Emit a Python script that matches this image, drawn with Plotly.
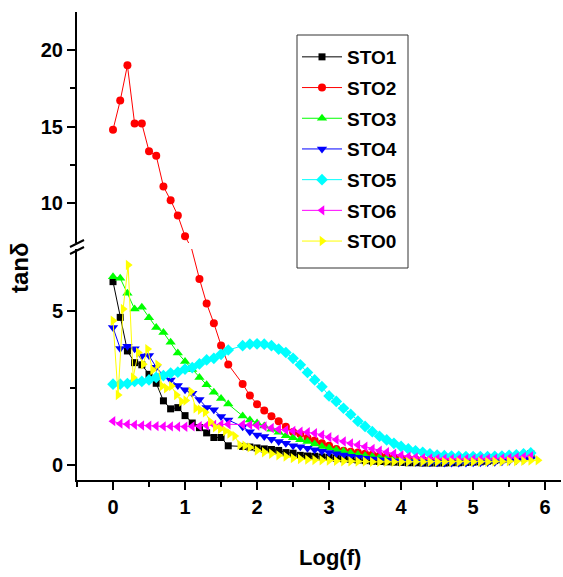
import plotly.graph_objects as go

# ---------------- data ----------------
x_main = [0.0, 0.1, 0.2, 0.3, 0.4, 0.5, 0.6, 0.7, 0.8, 0.9, 1.0, 1.1, 1.2, 1.3, 1.4, 1.5, 1.6,
          1.8, 1.9, 2.0, 2.1, 2.2, 2.3, 2.4, 2.5, 2.6, 2.7, 2.8, 2.9, 3.0, 3.1, 3.2, 3.3, 3.4,
          3.5, 3.6, 3.7, 3.8, 3.9, 4.0, 4.1, 4.2, 4.3, 4.4, 4.5, 4.6, 4.7, 4.8, 4.9, 5.0, 5.1,
          5.2, 5.3, 5.4, 5.5, 5.6, 5.7, 5.8]

sto1 = [5.95, 4.79, 3.70, 3.32, 3.25, 2.94, 2.65, 2.08, 1.82, 1.86, 1.60, 1.36, 1.21, 1.04, 0.89, 0.89, 0.62,
        0.60, 0.58, 0.55, 0.52, 0.50, 0.47, 0.40, 0.38, 0.31, 0.29, 0.28, 0.26, 0.24, 0.22, 0.20, 0.18, 0.16,
        0.14, 0.12, 0.11, 0.10, 0.09, 0.08, 0.07, 0.07, 0.06, 0.06, 0.06, 0.06, 0.07, 0.07, 0.08, 0.09, 0.10,
        0.12, 0.14, 0.17, 0.20, 0.24, 0.29, 0.36]

# the 1.1 point of STO2 lies inside the axis break and is not visible
sto2 = [14.8, 16.7, 19.0, 15.2, 15.2, 13.4, 13.1, 11.1, 10.2, 9.2, 7.85, None, 6.04, 5.24, 4.60, 3.88, 3.26,
        2.63, 2.25, 1.97, 1.77, 1.58, 1.42, 1.24, 1.07, 1.00, 0.87, 0.79, 0.70, 0.62, 0.52, 0.46, 0.43, 0.40,
        0.36, 0.33, 0.30, 0.27, 0.24, 0.22, 0.20, 0.18, 0.17, 0.16, 0.15, 0.15, 0.15, 0.15, 0.15, 0.16, 0.17,
        0.18, 0.19, 0.20, 0.21, 0.23, 0.25, 0.27]

sto3 = [6.11, 6.06, 5.57, 5.06, 5.12, 4.78, 4.46, 4.30, 3.98, 3.63, 3.36, 3.10, 2.84, 2.60, 2.36, 2.16, 1.98,
        1.59, 1.46, 1.36, 1.26, 1.16, 1.06, 0.95, 0.88, 0.82, 0.76, 0.68, 0.60, 0.55, 0.48, 0.44, 0.39, 0.34,
        0.30, 0.27, 0.25, 0.22, 0.20, 0.18, 0.16, 0.15, 0.14, 0.13, 0.12, 0.12, 0.12, 0.12, 0.12, 0.13, 0.14,
        0.15, 0.16, 0.18, 0.19, 0.21, 0.23, 0.26]

sto4 = [4.46, 3.78, 3.85, 3.77, 3.54, 3.55, 3.17, 2.90, 2.76, 2.58, 2.44, 2.33, 2.12, 1.86, 1.79, 1.57, 1.46,
        1.24, 1.08, 0.97, 0.92, 0.83, 0.76, 0.70, 0.62, 0.59, 0.54, 0.49, 0.44, 0.40, 0.36, 0.32, 0.28, 0.25,
        0.22, 0.19, 0.17, 0.15, 0.13, 0.11, 0.10, 0.09, 0.08, 0.07, 0.07, 0.06, 0.06, 0.06, 0.06, 0.07, 0.07,
        0.08, 0.09, 0.10, 0.12, 0.14, 0.16, 0.19]

sto5 = [2.62, 2.62, 2.64, 2.71, 2.71, 2.76, 2.84, 2.90, 2.98, 3.01, 3.11, 3.16, 3.28, 3.41, 3.46, 3.59, 3.73,
        3.87, 3.92, 3.93, 3.92, 3.87, 3.76, 3.65, 3.46, 3.25, 3.00, 2.76, 2.54, 2.24, 2.06, 1.84, 1.64, 1.42,
        1.25, 1.08, 0.93, 0.81, 0.70, 0.60, 0.52, 0.46, 0.41, 0.36, 0.32, 0.30, 0.29, 0.28, 0.27, 0.27, 0.27,
        0.27, 0.28, 0.29, 0.31, 0.33, 0.36, 0.39]

sto6 = [1.42, 1.34, 1.32, 1.30, 1.28, 1.27, 1.26, 1.25, 1.25, 1.24, 1.24, 1.25, 1.26, 1.28, 1.30, 1.31, 1.32,
        1.31, 1.30, 1.28, 1.25, 1.20, 1.16, 1.13, 1.10, 1.08, 1.06, 1.03, 0.97, 0.90, 0.82, 0.76, 0.70, 0.65,
        0.59, 0.52, 0.46, 0.41, 0.36, 0.31, 0.27, 0.24, 0.22, 0.21, 0.20, 0.20, 0.19, 0.19, 0.19, 0.19, 0.19,
        0.20, 0.20, 0.21, 0.22, 0.24, 0.26, 0.28]

x_sto0 = [0.0, 0.07, 0.14, 0.21, 0.28, 0.35, 0.42, 0.48, 0.55, 0.62, 0.68, 0.74, 0.81, 0.88, 0.95, 1.01,
          1.08, 1.15, 1.21, 1.28, 1.35, 1.42, 1.49, 1.56, 1.62, 1.69, 1.76, 1.83, 1.9, 2.0, 2.1, 2.2, 2.3,
          2.4, 2.5, 2.6, 2.7, 2.8, 2.9, 3.0, 3.1, 3.2, 3.3, 3.4, 3.5, 3.6, 3.7, 3.8, 3.9, 4.0, 4.1, 4.2,
          4.3, 4.4, 4.5, 4.6, 4.7, 4.8, 4.9, 5.0, 5.1, 5.2, 5.3, 5.4, 5.5, 5.6, 5.7, 5.8, 5.9]
sto0 = [4.68, 2.27, 5.06, 6.49, 2.84, 3.65, 3.27, 3.76, 3.08, 3.25, 2.56, 2.49, 2.56, 2.27, 2.06, 2.09,
        2.38, 1.84, 1.79, 1.71, 1.40, 1.22, 1.17, 1.10, 1.02, 0.94, 0.65, 0.62, 0.57, 0.47, 0.41, 0.36, 0.31,
        0.27, 0.22, 0.19, 0.17, 0.16, 0.15, 0.14, 0.13, 0.12, 0.12, 0.11, 0.11, 0.10, 0.10, 0.10, 0.10, 0.10,
        0.10, 0.10, 0.10, 0.10, 0.10, 0.10, 0.10, 0.10, 0.10, 0.10, 0.10, 0.10, 0.11, 0.11, 0.12, 0.12,
        0.13, 0.14, 0.15]

names = ["STO1", "STO2", "STO3", "STO4", "STO5", "STO6", "STO0"]
colors = ["#000000", "#FF0000", "#00FF00", "#0000FF", "#00FFFF", "#FF00FF", "#FFFF00"]
symbols = ["square", "circle", "triangle-up", "triangle-down", "diamond", "triangle-left", "triangle-right"]
msizes = [7, 8, 9, 9, 9, 9, 9]
xs = [x_main, x_main, x_main, x_main, x_main, x_main, x_sto0]
ys = [sto1, sto2, sto3, sto4, sto5, sto6, sto0]

# ---------------- figure ----------------
W, H = 563, 577
ML, MR, MT, MB = 77, 2, 12, 97
PW, PH = W - ML - MR, H - MT - MB

def px(xp):
    return (xp - ML) / PW

def py(yp):
    return (H - MB - yp) / PH

FONT = "Liberation Sans, Arial, sans-serif"

fig = go.Figure()
for i in range(len(names)):
    fig.add_trace(go.Scatter(
        x=xs[i], y=ys[i], name=names[i], mode="lines+markers", connectgaps=True,
        line=dict(color=colors[i], width=1),
        marker=dict(symbol=symbols[i], size=msizes[i], color=colors[i], line=dict(width=0)),
        xaxis="x", yaxis="y", legendgroup=names[i],
    ))
    if names[i] == "STO2":
        fig.add_trace(go.Scatter(
            x=xs[i], y=ys[i], name=names[i], mode="lines+markers", showlegend=False,
            connectgaps=True,
            line=dict(color=colors[i], width=1),
            marker=dict(symbol=symbols[i], size=msizes[i], color=colors[i], line=dict(width=0)),
            xaxis="x", yaxis="y2", legendgroup=names[i],
        ))

split_lo = py(249)
split_hi = py(243)
tickfont = dict(family=FONT, size=20, color="black", weight="bold")
axis_common = dict(showline=True, linewidth=2, linecolor="black", ticks="outside",
                   tickwidth=2, ticklen=8, tickcolor="black", showgrid=False, zeroline=False,
                   tickfont=tickfont)

fig.update_layout(
    width=W, height=H, margin=dict(l=ML, r=MR, t=MT, b=MB),
    paper_bgcolor="white", plot_bgcolor="white",
    xaxis=dict(domain=[0, 1], range=[-0.5, 6.22], anchor="y", tickmode="linear", tick0=0, dtick=1,
               minor=dict(tickmode="linear", tick0=0, dtick=0.5, ticks="outside", ticklen=5,
                          tickwidth=2, tickcolor="black"),
               **axis_common),
    yaxis=dict(domain=[0, split_lo], range=[-0.49, 7.01], anchor="x", tickvals=[0, 5],
               minor=dict(tickvals=[2.5], ticks="outside", ticklen=5, tickwidth=2, tickcolor="black"),
               **axis_common),
    yaxis2=dict(domain=[split_hi, 1], range=[7.41, 22.48], anchor="x", tickvals=[10, 15, 20],
                minor=dict(tickvals=[12.5, 17.5], ticks="outside", ticklen=5, tickwidth=2,
                           tickcolor="black"),
                **axis_common),
    legend=dict(x=px(297), y=py(38), xanchor="left", yanchor="top",
                borderwidth=0, bgcolor="rgba(0,0,0,0)",
                font=dict(family=FONT, size=19, color="black", weight="bold"),
                itemwidth=40, tracegroupgap=3, traceorder="grouped"),
    showlegend=True,
)

# legend frame
fig.add_shape(type="rect", xref="paper", yref="paper",
              x0=px(297), y0=py(35), x1=px(408), y1=py(268),
              line=dict(color="#333333", width=1), fillcolor="rgba(0,0,0,0)", layer="below")

# axis break marks
for (x0, y0, x1, y1) in [(70, 247, 84, 240), (70, 254, 84, 247)]:
    fig.add_shape(type="line", xref="paper", yref="paper",
                  x0=px(x0), y0=py(y0), x1=px(x1), y1=py(y1),
                  line=dict(color="black", width=2))

fig.add_annotation(text="tan\u03b4", xref="paper", yref="paper", x=px(19), y=py(268),
                   xanchor="center", yanchor="middle",
                   showarrow=False, textangle=-90,
                   font=dict(family=FONT, size=24, color="black", weight="bold"))
fig.add_annotation(text="Log(f)", xref="paper", yref="paper", x=px(330), y=py(557),
                   xanchor="center", yanchor="middle",
                   showarrow=False,
                   font=dict(family=FONT, size=22, color="black", weight="bold"))

fig.write_html("out.html")
